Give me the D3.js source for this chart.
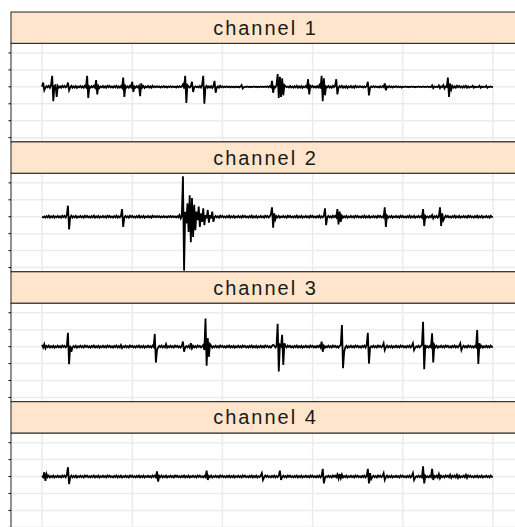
<!DOCTYPE html>
<html>
<head>
<meta charset="utf-8">
<script src="https://cdn.jsdelivr.net/npm/d3@7"></script>
<style>
  body { margin: 0; background: #fff; }
  svg { display: block; }
</style>
</head>
<body>
<div id="chart"></div>
<script>
// strip labels
var channels = ["channel 1", "channel 2", "channel 3", "channel 4"];

// sampling: one value every 0.0125 s, 0 .. 5 s
var dt = 0.0125;

// grid positions
var timeTicks = [0, 1, 2, 3, 4, 5];
var valueTicks = [-3, -2, -1, 0, 1, 2];

// signal values (20 samples per row)
var ch1 = [
  0,.25,-.2,-.05,.04,-.03,.06,-.05,.1,.65,-.85,.05,.1,-.6,.05,-.04,.03,-.05,.06,-.02,
  .05,-.04,.02,.25,-.2,-.03,.06,-.05,.03,-.04,.05,-.06,.02,-.03,.05,-.04,.03,-.05,.06,-.02,
  .65,-.65,.02,-.05,.04,-.03,.06,-.05,.4,-.45,.05,-.06,.02,-.03,.05,-.04,.03,-.05,.06,-.02,
  .05,-.04,.02,-.05,.04,-.03,.06,-.05,.03,-.04,.05,-.06,.55,-.6,.05,-.04,.03,-.05,.06,-.02,
  .3,-.3,.02,-.05,.04,-.03,.06,-.55,.2,-.04,.05,-.06,.02,-.03,.05,-.04,.03,-.05,.06,-.02,
  .03,-.03,.04,-.02,.03,-.04,.02,-.03,.04,-.03,.02,-.04,.03,-.02,.04,-.03,.03,-.02,.02,-.04,
  .03,-.03,.04,-.02,.03,.15,-.1,.65,-.95,.1,.02,-.04,.03,.3,-.3,-.03,.03,-.02,.02,-.04,
  .05,-.04,.1,.65,-1.0,-.03,.06,-.05,.03,-.04,.05,-.06,.02,.35,-.35,-.04,.03,-.05,.06,-.02,
  .03,-.03,.02,-.02,.03,-.02,.02,-.03,.02,-.02,.02,-.03,.02,-.02,.02,-.03,.02,.1,-.1,-.02,
  .01,-.01,.02,-.01,.01,-.02,.01,-.01,.02,-.01,.01,-.02,.01,-.01,.02,-.01,.01,-.01,.02,-.01,
  .03,-.03,.04,-.02,.35,-.35,.02,-.03,.1,.75,-.65,.6,-.6,.5,-.5,.1,.03,-.02,.02,-.04,
  .05,-.04,.02,-.05,.04,-.03,.06,-.05,.03,-.04,.05,-.06,.02,-.03,.05,-.04,.45,-.45,.06,-.02,
  .05,-.04,.02,-.05,.04,-.03,.1,-.1,.65,-.85,.5,-.5,.02,-.03,.05,-.04,.03,-.05,.06,-.02,
  .05,.45,-.45,-.05,.04,-.03,.06,-.05,.03,-.04,.05,-.06,.02,-.03,.05,-.04,.03,-.05,.06,-.02,
  .03,-.03,.04,-.02,.03,-.04,.02,-.03,.04,.3,-.5,-.04,.03,-.02,.04,-.03,.03,-.02,.02,-.04,
  .03,-.03,.04,-.02,.2,-.2,.02,-.03,.04,-.03,.02,-.04,.03,-.02,.04,-.03,.03,-.02,.02,-.04,
  .01,-.01,.02,-.01,.01,-.02,.01,-.01,.02,-.01,.01,-.02,.01,-.01,.02,-.01,.01,-.01,.02,-.01,
  .01,-.01,.02,-.01,.01,-.02,.08,-.08,.02,-.01,.01,-.02,.08,-.08,.02,-.01,.1,-.1,.02,-.01,
  .55,-.6,.2,-.15,.05,-.04,.03,-.05,.06,-.02,.05,-.04,.02,-.05,.04,-.03,.06,-.05,.03,-.04,
  .01,-.01,.06,-.06,.01,-.02,.01,-.01,.06,-.06,.01,-.02,.01,-.01,.06,-.06,.01,-.01,.02,-.01,
  0
];

var ch2 = [
  0,-.04,.02,-.05,.04,-.03,.06,-.05,.03,-.04,.05,-.06,.02,-.03,.05,-.04,.03,-.05,.06,-.02,
  .05,-.04,.1,.65,-.75,-.03,.06,-.05,.03,-.04,.05,-.06,.02,-.03,.05,-.04,.03,-.05,.06,-.02,
  .05,-.04,.02,-.05,.04,-.03,.06,-.05,.03,-.04,.05,-.06,.02,-.03,.05,-.04,.03,-.05,.06,-.02,
  .05,-.04,.02,-.05,.04,-.03,.06,-.05,.03,-.04,.05,.45,-.6,-.03,.05,-.04,.03,-.05,.06,-.02,
  .05,-.04,.02,-.05,.04,-.03,.06,-.05,.03,-.04,.05,-.06,.02,-.03,.05,-.04,.03,-.05,.06,-.02,
  .03,-.03,.04,-.02,.03,-.04,.02,-.03,.04,-.03,.02,-.04,.03,-.02,.04,-.03,.03,-.02,.02,-.04,
  .03,-.03,.1,-.1,.03,2.39,-3.18,.3,-.4,.8,-.9,1.27,-1.5,1.1,-1.2,.7,-.8,.3,-.2,.6,
  -.6,.2,-.3,.5,-.5,.1,-.1,.4,-.35,.1,-.1,.3,-.3,-.03,.05,-.04,.03,-.05,.06,-.02,
  .05,-.04,.02,-.05,.04,-.03,.06,-.05,.03,-.04,.05,-.06,.02,-.03,.05,-.04,.03,-.05,.06,-.02,
  .05,-.04,.02,-.05,.04,-.03,.06,-.05,.03,-.04,.05,-.06,.02,-.03,.05,-.04,.03,-.05,.06,-.02,
  .05,-.04,.02,.15,.55,-.65,.2,-.15,.03,-.04,.05,-.06,.02,-.03,.05,-.04,.03,-.05,.06,-.02,
  .05,-.04,.02,-.05,.04,-.03,.06,-.05,.03,-.04,.05,-.06,.02,-.03,.05,-.04,.03,-.05,.06,-.02,
  .05,-.04,.02,-.05,.04,-.03,.06,-.05,.03,-.04,.05,.5,-.5,-.03,.05,-.04,.03,-.05,.06,-.02,
  .05,-.04,.45,-.45,.3,-.3,.06,-.05,.03,-.04,.05,-.06,.02,-.03,.05,-.04,.03,-.05,.06,-.02,
  .05,-.04,.02,-.05,.04,-.03,.06,-.05,.03,-.04,.05,-.06,.02,-.03,.05,-.04,.03,-.05,.06,-.02,
  .05,-.04,.02,-.05,.55,-.6,.06,-.05,.03,-.04,.05,-.06,.02,-.03,.05,-.04,.03,-.05,.06,-.02,
  .05,-.04,.02,-.05,.04,-.03,.06,-.05,.03,-.04,.05,-.06,.02,-.03,.05,-.04,.03,-.05,.45,-.55,
  .05,-.04,.02,-.05,.04,-.03,.1,-.1,.03,-.04,.05,-.06,.02,.55,-.55,.2,-.2,-.05,.06,-.02,
  .05,-.04,.02,-.05,.04,-.03,.06,-.05,.03,-.04,.05,-.06,.02,-.03,.05,-.04,.03,-.05,.06,-.02,
  .05,-.04,.02,-.05,.04,-.03,.06,-.05,.03,-.04,.05,-.06,.02,-.03,.05,-.04,.03,-.05,.06,-.02,
  0
];

var ch3 = [
  .1,-.05,.15,-.1,.04,-.03,.06,-.05,.03,-.04,.05,-.06,.02,-.03,.05,-.04,.03,-.05,.06,-.02,
  .05,-.04,.02,.82,-1.04,.05,-.3,-.05,.03,-.04,.05,-.06,.02,-.03,.05,-.04,.03,-.05,.06,-.02,
  .05,-.04,.02,-.05,.04,-.03,.06,-.05,.03,-.04,.05,-.06,.02,-.03,.05,-.04,.03,-.05,.06,-.02,
  .05,-.04,.02,-.05,.04,-.03,.06,-.05,.03,-.04,.1,-.08,.02,-.03,.05,-.04,.03,-.05,.06,-.02,
  .05,-.04,.02,-.05,.04,-.03,.06,-.05,.03,-.04,.05,-.06,.02,-.03,.05,-.04,.03,-.05,.06,-.02,
  .75,-.94,-.2,-.05,.04,-.03,.06,-.05,.03,-.04,.15,-.06,.02,-.03,.05,-.04,.03,-.05,.06,-.02,
  .05,-.04,.02,-.05,.04,.3,-.3,-.05,.03,-.04,.05,-.06,.2,-.1,.05,-.04,.03,-.05,.06,-.02,
  .05,-.04,.02,.1,-.2,1.66,-1.12,.5,-.6,.15,.05,-.06,.02,-.03,.05,-.04,.03,-.05,.06,-.02,
  .05,-.04,.02,-.05,.04,-.03,.06,-.05,.03,-.04,.05,-.06,.02,-.03,.05,-.04,.03,-.05,.06,-.02,
  .05,-.04,.02,-.05,.04,-.03,.06,-.05,.03,-.04,.05,-.06,.02,-.03,.05,-.04,.03,-.05,.06,-.02,
  .05,-.04,.02,-.05,.04,.1,.06,-.05,.03,1.35,-1.47,.1,.02,.7,-1.08,.2,.03,-.05,.06,-.02,
  .05,-.04,.02,-.05,.04,-.03,.06,-.05,.03,-.04,.05,-.06,.02,-.03,.05,-.04,.03,-.05,.06,-.02,
  .05,-.04,.02,-.05,.04,-.03,.06,-.05,.3,-.3,.05,-.06,.02,-.03,.05,-.04,.03,-.05,.06,-.02,
  .05,-.04,.02,-.05,.04,.1,1.27,-1.27,-.3,-.04,.05,-.06,.02,-.03,.05,-.04,.03,-.05,.06,-.02,
  .05,-.04,.02,-.05,.04,-.03,.06,-.05,.1,.82,-1.0,-.06,.02,-.03,.05,-.04,.03,-.05,.06,-.02,
  .05,-.04,.02,.2,-.2,-.03,.06,-.05,.03,-.04,.05,-.06,.02,-.03,.05,-.04,.03,-.05,.06,-.02,
  .05,-.04,.02,-.05,.04,-.03,.06,-.05,.03,.2,-.2,-.06,.02,-.03,.05,-.04,.03,.1,1.47,-1.33,
  .1,-.04,.02,-.05,.04,-.03,.79,-.94,.1,-.04,.05,-.06,.02,-.03,.05,-.04,.03,-.05,.06,-.02,
  .05,-.04,.02,-.05,.04,-.03,.06,-.05,.03,-.04,.05,.2,-.2,-.03,.05,-.04,.03,-.05,.06,-.02,
  .05,-.04,.02,-.05,.04,-.03,.98,-1.02,.2,-.04,.05,-.06,.02,-.03,.05,-.04,.03,-.05,.06,-.02,
  0
];

var ch4 = [
  .05,-.04,.25,-.25,.15,-.03,.06,-.05,.03,-.04,.05,-.06,.02,-.03,.05,-.04,.03,-.05,.06,-.02,
  .05,-.04,.1,.55,-.45,-.03,.06,-.05,.03,-.04,.05,-.06,.02,-.03,.05,-.04,.03,-.05,.06,-.02,
  .05,-.04,.02,-.05,.04,-.03,.06,-.05,.03,-.04,.05,-.06,.02,-.03,.05,-.04,.03,-.05,.06,-.02,
  .05,-.04,.02,-.05,.04,-.03,.06,-.05,.03,-.04,.05,-.06,.02,-.03,.05,-.04,.03,-.05,.06,-.02,
  .05,-.04,.02,-.05,.04,-.03,.06,-.05,.03,-.04,.05,-.06,.02,-.03,.05,-.04,.03,-.05,.06,-.02,
  .05,-.04,.3,-.3,.04,-.03,.06,-.05,.03,-.04,.05,-.06,.02,-.03,.05,-.04,.03,-.05,.06,-.02,
  .05,-.04,.02,-.05,.04,-.03,.06,-.05,.03,-.04,.05,-.06,.02,-.03,.05,-.04,.03,-.05,.06,-.02,
  .05,-.04,.02,-.05,.04,-.03,.35,-.2,.03,-.04,.05,-.06,.02,-.03,.05,-.04,.03,-.05,.06,-.02,
  .05,-.04,.02,-.05,.04,-.03,.06,-.05,.03,-.04,.05,-.06,.02,-.03,.05,-.04,.03,-.05,.06,-.02,
  .05,-.04,.02,-.05,.04,-.03,.06,-.05,.03,-.04,.05,-.06,.02,-.03,.05,.2,-.2,-.05,.06,-.02,
  .05,-.04,.02,-.05,.04,-.03,.06,-.05,.03,-.04,.05,.35,-.2,-.03,.05,-.04,.03,-.05,.06,-.02,
  .05,-.04,.02,-.05,.04,-.03,.06,-.05,.03,-.04,.05,-.06,.02,-.03,.05,-.04,.03,-.05,.06,-.02,
  .05,-.04,.02,-.05,.04,-.03,.06,-.05,.03,.45,-.4,-.06,.02,-.03,.05,-.04,.03,-.05,.06,-.02,
  .05,-.04,.12,-.12,.15,-.1,.12,-.05,.03,-.04,.05,-.06,.02,-.03,.05,-.04,.03,-.05,.06,-.02,
  .05,-.04,.02,-.05,.04,-.03,.06,-.05,.03,.45,-.4,.2,-.15,-.03,.05,-.04,.03,-.05,.06,-.02,
  .05,-.04,.02,.2,-.2,-.03,.06,-.05,.03,-.04,.05,-.06,.02,-.03,.05,-.04,.03,-.05,.06,-.02,
  .05,-.04,.02,-.05,.04,-.03,.06,-.05,.03,.2,-.2,-.06,.02,-.03,.05,-.04,.03,-.05,.6,-.4,
  .05,-.04,.02,-.05,.04,-.03,.45,-.2,.03,-.04,.05,-.06,.15,-.1,.05,-.04,.03,-.05,.06,-.02,
  .05,-.04,.1,-.08,.04,-.03,.06,-.05,.1,-.08,.05,-.06,.02,-.03,.05,-.04,.1,-.08,.06,-.02,
  .05,-.04,.02,-.05,.04,-.03,.06,-.05,.03,-.04,.05,-.06,.02,-.03,.05,-.04,.03,-.05,.06,-.02,
  0
];

var series = [ch1, ch2, ch3, ch4];

var width = 515, height = 527;
var top0 = 12, stripH = 31.3, plotH = 98.6, period = 129.9;
var left = 11, right = 524;

var svg = d3.select("#chart")
    .append("svg")
    .attr("width", width)
    .attr("height", height);

var x = d3.scaleLinear([-0.344, 5.344], [left, right]);

var line = d3.line()
    .x((d, i) => x(i * dt))
    .y(d => d);

channels.forEach(function(name, k) {
    var sTop = top0 + k * period;
    var pTop = sTop + stripH;
    var y = d3.scaleLinear([-3.25, 2.57], [pTop + plotH, pTop]);
    var g = svg.append("g");

    // grid
    g.append("g")
        .selectAll("line")
        .data(timeTicks)
        .join("line")
        .attr("x1", d => x(d)).attr("x2", d => x(d))
        .attr("y1", pTop).attr("y2", pTop + plotH)
        .attr("stroke", "#ebebeb")
        .attr("stroke-width", 1.5);

    g.append("g")
        .selectAll("line")
        .data(valueTicks)
        .join("line")
        .attr("x1", left).attr("x2", right)
        .attr("y1", d => y(d)).attr("y2", d => y(d))
        .attr("stroke", "#ebebeb")
        .attr("stroke-width", 1.5);

    // left ticks
    g.append("g")
        .selectAll("line")
        .data(valueTicks)
        .join("line")
        .attr("x1", left - 2.5).attr("x2", left)
        .attr("y1", d => y(d)).attr("y2", d => y(d))
        .attr("stroke", "#000")
        .attr("stroke-width", 1);

    // signal
    g.append("path")
        .datum(series[k].map(v => y(v)))
        .attr("fill", "none")
        .attr("stroke", "#000")
        .attr("stroke-width", 1.8)
        .attr("d", line);

    // panel border
    g.append("rect")
        .attr("x", left).attr("y", pTop)
        .attr("width", right - left).attr("height", plotH)
        .attr("fill", "none")
        .attr("stroke", "#222")
        .attr("stroke-width", 1);

    // strip
    g.append("rect")
        .attr("x", left).attr("y", sTop)
        .attr("width", right - left).attr("height", stripH)
        .attr("fill", "#ffe5cc")
        .attr("stroke", "#222")
        .attr("stroke-width", 1);

    g.append("text")
        .attr("x", (left + right) / 2 - 2)
        .attr("y", sTop + 22.7)
        .attr("text-anchor", "middle")
        .attr("font-family", "'Liberation Sans', Arial, sans-serif")
        .attr("font-size", 20)
        .attr("letter-spacing", 2)
        .attr("fill", "#1a1a1a")
        .text(name);
});
</script>
</body>
</html>
